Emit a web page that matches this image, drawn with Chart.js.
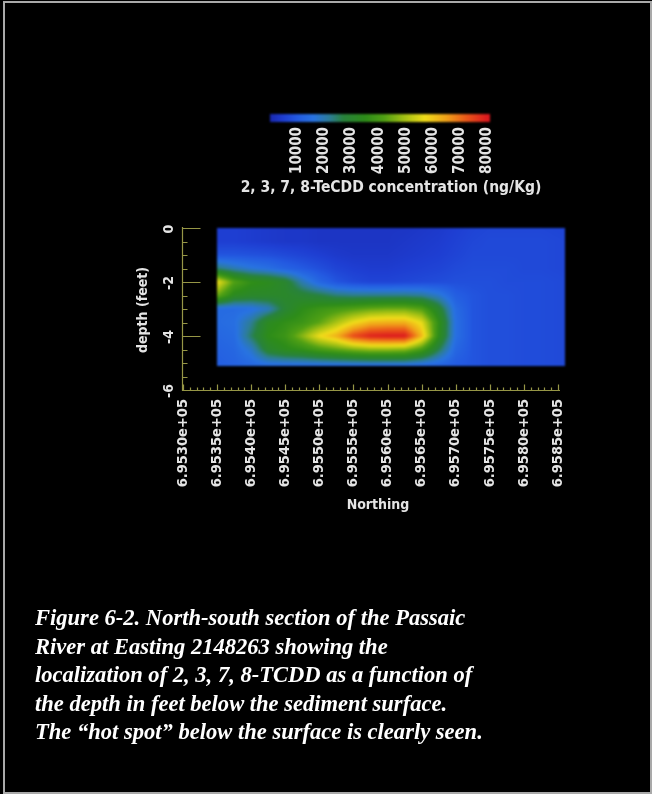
<!DOCTYPE html>
<html><head><meta charset="utf-8">
<script src="https://cdn.jsdelivr.net/npm/chart.js@4.4.0/dist/chart.umd.min.js"></script>
<style>
html,body{margin:0;padding:0;background:#000;width:652px;height:794px;overflow:hidden;}
#frame{position:absolute;left:3px;top:1px;width:649px;height:793px;box-sizing:border-box;border:2px solid #a9a9a9;}
canvas{position:absolute;left:0;top:0;}
#caption{position:absolute;left:35px;top:604px;color:#fff;font-family:'Liberation Serif','DejaVu Serif',serif;font-weight:bold;font-style:italic;font-size:24px;line-height:28.5px;white-space:nowrap;}
#caption span{display:block;}
</style></head><body>
<div id="frame"></div>
<canvas id="main" width="652" height="794"></canvas>
<canvas id="cbar" width="652" height="200"></canvas>
<div id="caption"><span>Figure 6-2. North-south section of the Passaic</span><span>River at Easting 2148263 showing the</span><span>localization of 2, 3, 7, 8-TCDD as a function of</span><span>the depth in feet below the sediment surface.</span><span>The “hot spot” below the surface is clearly seen.</span></div>
<script>
// ---- data ----
const northing = [695350,695375,695400,695425,695450,695475,695500,695525,695550,695575,695600,695625,695650,695675,695700,695725,695750,695775,695800,695825,695860];
const depth = [0,-0.5,-1,-1.5,-2,-2.5,-3,-3.5,-4,-4.5,-5.1];
const conc_0_0 = [5000,5000,4500,4000,3500,3500,3000,3000,3000,3000,3000,3000,3500,4000,5000,6000,6500,6500,6500,6500,6000];
const conc_0_5 = [5000,5000,4500,4000,3500,3500,3000,3000,3000,3000,3000,3500,4000,4500,5500,6500,7000,7000,7000,7000,6500];
const conc_1_0 = [9000,9000,8500,8000,7000,6000,5000,4000,3500,3500,3500,4000,4500,5000,6000,7000,7000,7000,7000,7000,6500];
const conc_1_5 = [24000,20000,17000,15000,12000,10000,8000,6000,5000,4500,4500,5000,5500,6000,7000,7500,7500,7500,7000,7000,6500];
const conc_2_0 = [57000,42000,36000,34000,30000,20000,13000,9000,7000,6000,6000,6500,7000,7500,8000,8000,8000,7500,7500,7500,7000];
const conc_2_5 = [44000,33000,31000,31000,31000,29000,27000,24000,23000,23000,23000,23000,22000,18000,11000,9000,8000,8000,7500,7500,7000];
const conc_3_0 = [14000,14000,15000,19000,29000,35000,38000,40000,42000,44000,45000,45000,42000,30000,14000,9000,8000,8000,7500,7500,7000];
const conc_3_5 = [14000,15000,22000,33000,36000,38000,43000,50000,57000,62000,63000,63000,56000,36000,15000,9000,8000,8000,7500,7500,7000];
const conc_4_0 = [13000,14000,25000,35000,38000,47000,57000,63000,74000,79000,80000,80000,62000,35000,15000,9000,8000,8000,7500,7500,7000];
const conc_4_5 = [12000,13000,18000,30000,34000,36000,40000,43000,46000,48000,48000,47000,40000,26000,13000,9000,8000,8000,7500,7500,7000];
const conc_5_1 = [11000,12000,13000,14000,14000,14000,14000,14000,14000,14000,14000,14000,13000,12000,10000,9000,8000,8000,7500,7500,7000];
const northingTicks = [695300,695350,695400,695450,695500,695550,695600,695650,695700,695750,695800,695850];
const northingTickLabels = ["6.9530e+05","6.9535e+05","6.9540e+05","6.9545e+05","6.9550e+05","6.9555e+05","6.9560e+05","6.9565e+05","6.9570e+05","6.9575e+05","6.9580e+05","6.9585e+05"];
const depthTicks = [0,-2,-4,-6];
const depthTickLabels = ["0","-2","-4","-6"];
const colorbarTicks = [10000,20000,30000,40000,50000,60000,70000,80000];
const colorbarTickLabels = ["10000","20000","30000","40000","50000","60000","70000","80000"];

const concentration = [conc_0_0,conc_0_5,conc_1_0,conc_1_5,conc_2_0,conc_2_5,conc_3_0,conc_3_5,conc_4_0,conc_4_5,conc_5_1];

// ---- style ----
const cmapValues = [0,5000,10000,16000,22000,27000,35000,42000,50000,57000,65000,72000,80000];
const cmapColors = [[25,40,175],[30,62,210],[35,90,225],[40,115,225],[45,125,150],[40,130,60],[45,140,25],[80,160,20],[170,195,20],[240,220,25],[240,160,25],[235,90,25],[220,25,30]];
const FAMILY = "'DejaVu Sans Condensed','DejaVu Sans',sans-serif";
const TEXT = '#e4e4e4';
const AXIS = 'rgb(150,150,70)';

function cmap(v){
  if (v <= cmapValues[0]) return cmapColors[0];
  for (let i=0;i<cmapValues.length-1;i++){
    if (v <= cmapValues[i+1]){
      const t=(v-cmapValues[i])/(cmapValues[i+1]-cmapValues[i]);
      const a=cmapColors[i], b=cmapColors[i+1];
      return [a[0]+(b[0]-a[0])*t, a[1]+(b[1]-a[1])*t, a[2]+(b[2]-a[2])*t];
    }
  }
  return cmapColors[cmapColors.length-1];
}
function findIdx(arr, v, desc){
  for (let i=0;i<arr.length-1;i++){
    const lo = desc ? arr[i+1] : arr[i], hi = desc ? arr[i] : arr[i+1];
    if (v>=lo && v<=hi) return i;
  }
  return desc ? (v>arr[0]?0:arr.length-2) : (v<arr[0]?0:arr.length-2);
}
function sample(n, d){
  const j = findIdx(northing, n, false), k = findIdx(depth, d, true);
  let tx = (n-northing[j])/(northing[j+1]-northing[j]); tx=Math.max(0,Math.min(1,tx));
  let ty = (d-depth[k])/(depth[k+1]-depth[k]); ty=Math.max(0,Math.min(1,ty));
  const a=concentration[k][j], b=concentration[k][j+1], c=concentration[k+1][j], e=concentration[k+1][j+1];
  return (a*(1-tx)+b*tx)*(1-ty) + (c*(1-tx)+e*tx)*ty;
}

const heatPlugin = {
  id:'heat',
  beforeDatasetsDraw(chart){
    const xs=chart.scales.x, ys=chart.scales.y, ctx=chart.ctx;
    const x0=Math.round(xs.getPixelForValue(northing[0])), x1=Math.round(xs.getPixelForValue(northing[northing.length-1]));
    const y0=Math.round(ys.getPixelForValue(depth[0])), y1=Math.round(ys.getPixelForValue(depth[depth.length-1]));
    const w=x1-x0, h=y1-y0;
    const off=document.createElement('canvas'); off.width=w; off.height=h;
    const octx=off.getContext('2d'); const img=octx.createImageData(w,h);
    for (let py=0;py<h;py++){
      const d=ys.getValueForPixel(y0+py+0.5);
      for (let px=0;px<w;px++){
        const n=xs.getValueForPixel(x0+px+0.5);
        const c=cmap(sample(n,d));
        const o=(py*w+px)*4;
        img.data[o]=c[0]; img.data[o+1]=c[1]; img.data[o+2]=c[2]; img.data[o+3]=255;
      }
    }
    octx.putImageData(img,0,0);
    ctx.save(); ctx.filter='blur(1.3px)'; ctx.drawImage(off,x0,y0); ctx.restore();
  }
};

const axisPlugin = {
  id:'axes',
  afterDraw(chart){
    const xs=chart.scales.x, ys=chart.scales.y, ctx=chart.ctx, ca=chart.chartArea;
    ctx.save();
    ctx.strokeStyle=AXIS; ctx.lineWidth=1.2;
    const L=ca.left-0.5, B=ca.bottom+0.5;
    ctx.beginPath();
    ctx.moveTo(L, ys.getPixelForValue(0)-1); ctx.lineTo(L,B);
    ctx.lineTo(xs.getPixelForValue(northingTicks[northingTicks.length-1])+2,B);
    for (let d=0; d>-6; d-=0.5){
      const y=Math.round(ys.getPixelForValue(d))+0.5;
      const len = depthTicks.includes(d) ? 18 : 5;
      ctx.moveTo(L,y); ctx.lineTo(L+len,y);
    }
    const nMin=northingTicks[0], nMax=northingTicks[northingTicks.length-1];
    for (let n=nMin; n<=nMax; n+=10){
      const x=Math.round(xs.getPixelForValue(n))+0.5;
      const len = northingTicks.includes(n) ? 6 : 3;
      ctx.moveTo(x,B); ctx.lineTo(x,B-len);
    }
    ctx.stroke();
    ctx.fillStyle=TEXT; ctx.font="bold 14px "+FAMILY; ctx.textAlign='center'; ctx.textBaseline='middle';
    depthTicks.forEach((d,i)=>{
      ctx.save(); ctx.translate(169, ys.getPixelForValue(d)+1); ctx.rotate(-Math.PI/2);
      ctx.fillText(depthTickLabels[i],0,0); ctx.restore();
    });
    ctx.save(); ctx.translate(143,310); ctx.rotate(-Math.PI/2); ctx.fillText('depth (feet)',0,0); ctx.restore();
    ctx.fillText('Northing',378,505);
    ctx.restore();
  }
};

const gridPoints=[];
depth.forEach((d,k)=>northing.forEach((n,j)=>gridPoints.push({x:n,y:d,v:concentration[k][j]})));

new Chart(document.getElementById('main'),{
  type:'scatter',
  data:{datasets:[{data:gridPoints,pointRadius:0,pointHoverRadius:0,showLine:false}]},
  options:{
    responsive:false, animation:false, events:[],
    layout:{padding:{left:0,top:228,right:94,bottom:0}},
    plugins:{legend:{display:false},tooltip:{enabled:false}},
    scales:{
      x:{type:'linear',min:northingTicks[0],max:northingTicks[northingTicks.length-1],
        afterBuildTicks:s=>{s.ticks=northingTicks.map(v=>({value:v}));},
        afterFit:s=>{s.height=404;},
        grid:{display:false,drawTicks:false}, border:{display:false},
        ticks:{minRotation:90,maxRotation:90,autoSkip:false,padding:9,color:TEXT,font:{family:FAMILY,size:14.5,weight:'bold'},
          callback:(v)=>northingTickLabels[northingTicks.indexOf(v)]}
      },
      y:{type:'linear',min:-6,max:0,
        afterFit:s=>{s.width=183;},
        grid:{display:false,drawTicks:false}, border:{display:false},
        ticks:{display:false}
      }
    }
  },
  plugins:[heatPlugin,axisPlugin]
});

const cbarPlugin = {
  id:'cbar',
  beforeDatasetsDraw(chart){
    const xs=chart.scales.x, ctx=chart.ctx, ca=chart.chartArea;
    const xa=xs.getPixelForValue(xs.min), xb=xs.getPixelForValue(xs.max);
    const g=ctx.createLinearGradient(xa,0,xb,0);
    cmapValues.forEach((v,i)=>{const c=cmapColors[i]; g.addColorStop(Math.min(1,(xs.getPixelForValue(v)-xa)/(xb-xa)),'rgb('+c.map(Math.round).join(',')+')');});
    ctx.save(); ctx.filter='blur(0.8px)'; ctx.fillStyle=g; ctx.fillRect(xa,ca.top,xb-xa,ca.bottom-ca.top); ctx.restore();
    ctx.save(); ctx.fillStyle=TEXT; ctx.font="bold 15.5px "+FAMILY; ctx.textAlign='center'; ctx.textBaseline='middle';
    ctx.fillText('2, 3, 7, 8-TeCDD concentration (ng/Kg)',391,188); ctx.restore();
  }
};
new Chart(document.getElementById('cbar'),{
  type:'scatter',
  data:{datasets:[{data:[],pointRadius:0}]},
  options:{
    responsive:false, animation:false, events:[],
    layout:{padding:{left:270,right:162,top:114,bottom:0}},
    plugins:{legend:{display:false},tooltip:{enabled:false}},
    scales:{
      x:{type:'linear',min:0,max:81000,
        afterBuildTicks:s=>{s.ticks=colorbarTicks.map(v=>({value:v}));},
        afterFit:s=>{s.height=78;},
        grid:{display:false,drawTicks:false}, border:{display:false},
        ticks:{minRotation:90,maxRotation:90,autoSkip:false,padding:5,color:TEXT,font:{family:FAMILY,size:15,weight:'bold'},
          callback:(v)=>colorbarTickLabels[colorbarTicks.indexOf(v)]}
      },
      y:{display:false,min:0,max:1}
    }
  },
  plugins:[cbarPlugin]
});

// fit caption: widest line should span about 448px
(function(){
  const cap=document.getElementById('caption');
  const w=cap.getBoundingClientRect().width;
  cap.style.fontSize=(24*448/w).toFixed(2)+'px';
})();
</script>
</body></html>
